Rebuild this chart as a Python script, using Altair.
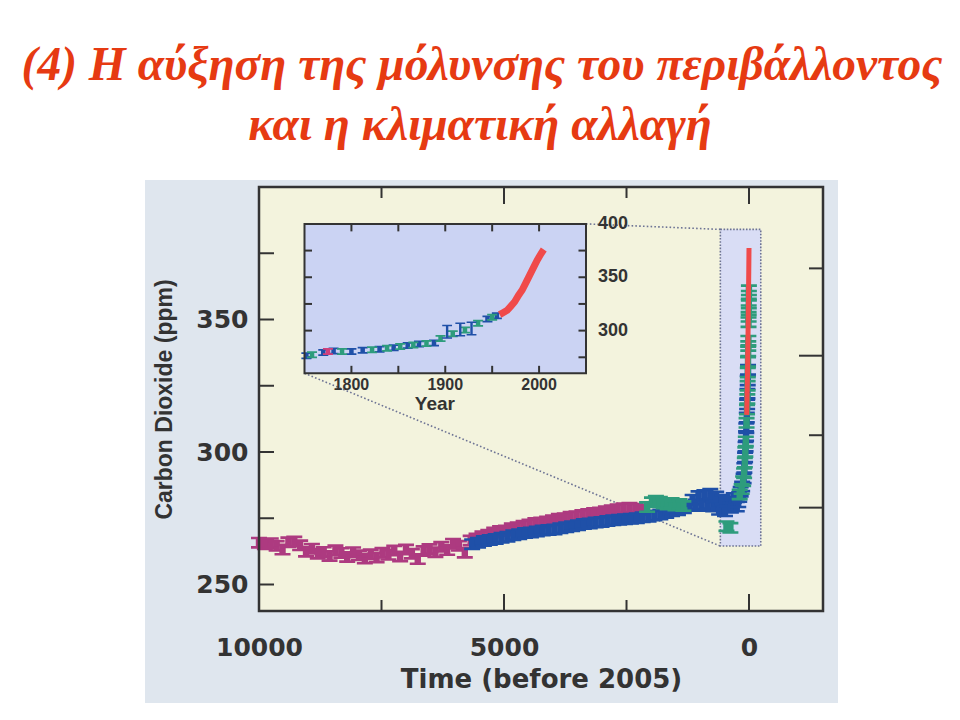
import math
import altair as alt
import pandas as pd

# ---------------- text ----------------
TITLE_LINES = ["(4) Η αύξηση της μόλυνσης του περιβάλλοντος", "και η κλιματική αλλαγή"]
X_TITLE = "Time (before 2005)"
Y_TITLE = "Carbon Dioxide (ppm)"
INSET_X_TITLE = "Year"

# ---------------- main panel data (years before 2005, ppm) ----------------
mag_t = [10000, 9880, 9760, 9640, 9520, 9400, 9280, 9160, 9040, 8920, 8800, 8680, 8560, 8440,
         8320, 8200, 8080, 7960, 7840, 7720, 7600, 7480, 7360, 7240, 7120, 7000, 6880, 6760,
         6640, 6520, 6400, 6280, 6160, 6040, 5920, 5800, 5680, 5560, 5440, 5320, 5200, 5080,
         4960, 4840, 4720, 4600, 4480, 4360, 4240, 4120, 4000, 3880, 3760, 3640, 3520, 3400,
         3280, 3160, 3040, 2920, 2800, 2680, 2560, 2440, 2320, 2200]
mag_ppm = [265.8, 265.2, 265.6, 264.6, 263.2, 265.9, 266.2, 264.8, 262.4, 263.5, 261.6, 262.3,
           260.8, 262.9, 261.9, 260.4, 262.2, 261.0, 259.8, 261.4, 260.2, 262.0, 261.2, 262.8,
           260.6, 263.2, 261.6, 259.6, 262.6, 263.4, 262.2, 264.2, 263.0, 265.4, 264.6, 262.0,
           266.6, 267.4, 268.2, 268.8, 269.6, 270.2, 270.4, 271.2, 271.6, 272.2, 272.6, 273.2,
           273.4, 273.8, 274.2, 274.8, 275.0, 275.6, 275.8, 276.2, 276.6, 277.0, 277.2, 277.6,
           278.0, 278.4, 278.8, 279.0, 278.6, 278.2]

blue_t = [5650, 5530, 5410, 5290, 5170, 5050, 4930, 4810, 4690, 4570, 4450, 4330, 4210, 4090,
          3970, 3850, 3730, 3610, 3490, 3370, 3250, 3130, 3010, 2890, 2770, 2650, 2530, 2410,
          2290, 2170, 2050, 1930, 1810, 1690, 1570, 1450, 1330, 1210, 1150, 1090, 1030, 970,
          910, 850, 790, 730, 670, 610, 550, 490, 430, 370, 310, 250, 220,
          200, 170, 140, 110, 95, 80, 70, 60, 55, 45, 38, 32, 26, 20]
blue_ppm = [265.2, 265.8, 266.4, 266.8, 267.2, 267.6, 268.0, 268.6, 269.0, 269.4, 269.6, 270.0,
            270.4, 270.6, 270.8, 271.2, 271.6, 272.0, 272.4, 272.8, 273.0, 273.4, 273.6, 274.0,
            274.2, 274.4, 274.6, 274.8, 275.0, 275.4, 275.6, 276.0, 276.4, 277.0, 277.6, 278.0,
            278.8, 279.6, 282.0, 280.2, 283.4, 279.6, 283.8, 280.4, 284.2, 279.4, 283.2, 278.2,
            282.0, 277.6, 281.4, 279.0, 282.6, 279.4, 281.0,
            283.0, 285.0, 287.0, 290.0, 294.0, 298.0, 302.0, 306.0, 309.0, 313.0, 318.0, 322.0,
            327.0, 331.0]

green_t = [2080, 1980, 1900, 1820, 1740, 1660, 1580, 1500, 1420, 1340, 460, 380,
           190, 150, 120, 100, 85, 75, 65, 50, 40, 34, 28, 24, 20, 17, 15, 13, 10, 8, 6, 4, 3, 2]
green_ppm = [279.2, 281.0, 281.6, 281.2, 280.6, 280.2, 280.8, 279.8, 280.4, 279.6, 272.0, 271.4,
             284.0, 286.0, 289.0, 292.0, 296.0, 300.0, 304.0, 311.0, 316.0, 320.0, 325.0, 330.0,
             334.0, 338.0, 340.0, 342.0, 349.0, 351.0, 353.5, 356.0, 359.0, 361.0]

red_t = [47, 40, 30, 20, 15, 10, 5, 0]
red_ppm = [314, 320, 330, 344, 352, 360, 368, 377]

# zoom box around the last centuries (years before 2005, ppm)
box_t = [585, -240]
box_ppm = [264.5, 384]

# main axes
X_LABELS = [10000, 5000, 0]
X_MAJOR = [5000, 0]
X_MINOR = [7500, 2500]
Y_LABELS = [250, 300, 350]
Y_TICKS = [250, 275, 300, 325, 350, 375]
RF_MAJOR = [0.0, 1.0]      # radiative forcing ticks (W m-2), right axis, labels cropped
RF_MINOR = [0.5, 1.5]

# ---------------- inset data (calendar year, ppm) ----------------
in_blue_year = [1752, 1770, 1781, 1800, 1812, 1830, 1845, 1860, 1872, 1888, 1945, 1955]
in_blue_ppm = [276.5, 279.5, 281.0, 280.5, 281.5, 282.5, 284.0, 286.0, 287.5, 288.5, 311.0, 314.0]
in_err_year = [1902, 1916, 1928]
in_err_ppm = [299.0, 301.0, 302.0]
in_green_year = [1758, 1790, 1822, 1838, 1852, 1866, 1880, 1895, 1908, 1921, 1935, 1950]
in_green_ppm = [277.5, 280.5, 282.0, 283.5, 285.0, 286.5, 288.0, 292.5, 297.0, 300.5, 307.0, 312.5]
in_mag_year = [1775]
in_mag_ppm = [280.5]
in_red_year = [1958, 1962, 1966, 1970, 1974, 1978, 1982, 1986, 1990, 1994, 1998, 2002, 2005]
in_red_ppm = [315, 317, 319, 323, 327, 333, 338, 345, 352, 359, 366, 372, 376]

IN_X_TICKS = [1800, 1850, 1900, 1950, 2000]
IN_X_LABELS = [1800, 1900, 2000]
IN_Y_TICKS = [275, 300, 325, 350, 375]
IN_Y_LABELS = [400, 350, 300]

# ---------------- layout ----------------
W, H = 564, 424
X_DOM = [10000, -1510]
Y_DOM = [240, 400]
IN_X_DOM = [1750, 2050]
IN_Y_DOM = [260, 400]
IN_X_RANGE = [45.5, 327.0]
IN_Y_RANGE = [186.3, 36.9]

C_TITLE = "#e63a12"
C_TEXT = "#333333"
C_MAG = "#ad3a80"
C_BLUE = "#1f50a8"
C_GREEN = "#2e9c7c"
C_RED = "#f04a4a"
C_OUTER = "#dfe6ee"
C_PLOT = "#f3f3dd"
C_INSET = "#cbd3f3"
C_BOX = "#d9ddf5"
C_DOT = "#6d7394"

I_MAIN = "M-1,-0.75L1,-0.75L1,-0.42L0.4,-0.42L0.4,0.42L1,0.42L1,0.75L-1,0.75L-1,0.42L-0.4,0.42L-0.4,-0.42L-1,-0.42Z"
I_SMALL = "M-1,-0.7L1,-0.7L1,-0.35L0.45,-0.35L0.45,0.35L1,0.35L1,0.7L-1,0.7L-1,0.35L-0.45,0.35L-0.45,-0.35L-1,-0.35Z"
I_TALL = "M-0.7,-1L0.7,-1L0.7,-0.78L0.17,-0.78L0.17,0.78L0.7,0.78L0.7,1L-0.7,1L-0.7,0.78L-0.17,0.78L-0.17,-0.78L-0.7,-0.78Z"


def inv_main_x(px):
    return X_DOM[0] + (X_DOM[1] - X_DOM[0]) * px / W


def inv_main_y(py):
    return Y_DOM[1] - (Y_DOM[1] - Y_DOM[0]) * py / H


one = pd.DataFrame({"a": [0]})

xs = alt.Scale(domain=X_DOM, nice=False, zero=False)
ys = alt.Scale(domain=Y_DOM, nice=False, zero=False)
x_axis = alt.Axis(values=X_LABELS, format="d", ticks=False, domain=False, grid=False, zindex=5,
                  labelFlush=False, labelFont="DejaVu Sans", labelFontWeight="bold",
                  labelFontSize=25, labelColor=C_TEXT, labelPadding=24,
                  title=X_TITLE, titleFont="DejaVu Sans", titleFontWeight="bold",
                  titleFontSize=26, titleColor=C_TEXT, titlePadding=6)
y_axis = alt.Axis(values=Y_LABELS, format="d", ticks=False, domain=False, grid=False, zindex=5,
                  labelFont="DejaVu Sans", labelFontWeight="bold", labelFontSize=25,
                  labelColor=C_TEXT, labelPadding=11,
                  title=Y_TITLE, titleFont="Liberation Sans", titleFontWeight="bold",
                  titleFontSize=23, titleColor=C_TEXT, titlePadding=19)


def MX(f):
    return alt.X(f, type="quantitative", scale=xs, axis=x_axis)


def MY(f):
    return alt.Y(f, type="quantitative", scale=ys, axis=y_axis)


layers = []
# figure background and plot area
layers.append(alt.Chart(one).mark_rect(color=C_OUTER).encode(
    x=alt.value(-114), x2=alt.value(579), y=alt.value(-7), y2=alt.value(516)))
layers.append(alt.Chart(one).mark_rect(color=C_PLOT).encode(
    x=alt.value(0), x2=alt.value(W), y=alt.value(0), y2=alt.value(H)))
# title
for i, (line, xv, yv) in enumerate(zip(TITLE_LINES, [223, 221], [-107, -47])):
    layers.append(alt.Chart(one).mark_text(
        text=line, font="Liberation Serif", fontStyle="italic", fontWeight="bold",
        fontSize=47.5, color=C_TITLE, align="center", baseline="alphabetic").encode(
        x=alt.value(xv), y=alt.value(yv)))

# zoom box
box_df = pd.DataFrame({"t1": [box_t[0]], "t2": [box_t[1]], "p1": [box_ppm[0]], "p2": [box_ppm[1]]})
layers.append(alt.Chart(box_df).mark_rect(fill=C_BOX, stroke=C_DOT, strokeWidth=1.6,
                                          strokeDash=[1.6, 1.6]).encode(
    x=MX("t1"), x2="t2", y=MY("p1"), y2="p2"))

# connectors from inset corners to zoom box
conn_df = pd.DataFrame({
    "xa": [inv_main_x(IN_X_RANGE[1]), inv_main_x(IN_X_RANGE[0])],
    "ya": [inv_main_y(IN_Y_RANGE[1]), inv_main_y(IN_Y_RANGE[0])],
    "xb": [box_t[0], box_t[0]],
    "yb": [box_ppm[1], box_ppm[0]],
})
layers.append(alt.Chart(conn_df).mark_rule(color=C_DOT, strokeWidth=1.6, strokeDash=[1.6, 2.2]).encode(
    x=MX("xa"), y=MY("ya"), x2="xb", y2="yb"))

# data glyphs
for tt, pp, col in [(mag_t, mag_ppm, C_MAG), (blue_t, blue_ppm, C_BLUE), (green_t, green_ppm, C_GREEN)]:
    df = pd.DataFrame({"t": tt, "ppm": pp})
    layers.append(alt.Chart(df).mark_point(shape=I_MAIN, filled=True, size=256, opacity=1,
                                           color=col).encode(x=MX("t"), y=MY("ppm")))
red_df = pd.DataFrame({"t": red_t, "ppm": red_ppm})
layers.append(alt.Chart(red_df).mark_line(color=C_RED, strokeWidth=5).encode(
    x=MX("t"), y=MY("ppm")))

# inward ticks
yt = pd.DataFrame({"v": Y_TICKS})
layers.append(alt.Chart(yt).mark_rule(color=C_TEXT, strokeWidth=2).encode(
    y=MY("v"), x=alt.value(0), x2=alt.value(15)))
for vals, ln in [(X_MAJOR, 17), (X_MINOR, 11)]:
    d = pd.DataFrame({"v": vals})
    layers.append(alt.Chart(d).mark_rule(color=C_TEXT, strokeWidth=2).encode(
        x=MX("v"), y=alt.value(0), y2=alt.value(ln)))
    layers.append(alt.Chart(d).mark_rule(color=C_TEXT, strokeWidth=2).encode(
        x=MX("v"), y=alt.value(H - ln), y2=alt.value(H)))
for vals, ln in [(RF_MAJOR, 24), (RF_MINOR, 14)]:
    d = pd.DataFrame({"F": vals})
    layers.append(alt.Chart(d).transform_calculate(ppm="279*exp(datum.F/5.35)").mark_rule(
        color=C_TEXT, strokeWidth=2).encode(
        y=MY("ppm"), x=alt.value(W - ln), x2=alt.value(W)))
# frame
layers.append(alt.Chart(one).mark_rect(fillOpacity=0, stroke=C_TEXT, strokeWidth=2.5).encode(
    x=alt.value(0), x2=alt.value(W), y=alt.value(0), y2=alt.value(H)))

main = alt.layer(*layers)

# ---------------- inset ----------------
ixs = alt.Scale(domain=IN_X_DOM, range=IN_X_RANGE, nice=False, zero=False)
iys = alt.Scale(domain=IN_Y_DOM, range=IN_Y_RANGE, nice=False, zero=False)


def IX(f):
    return alt.X(f, type="quantitative", scale=ixs, axis=None)


def IY(f):
    return alt.Y(f, type="quantitative", scale=iys, axis=None)


ilayers = []
in_box = pd.DataFrame({"x1": [IN_X_DOM[0]], "x2": [IN_X_DOM[1]], "y1": [IN_Y_DOM[0]], "y2": [IN_Y_DOM[1]]})
ilayers.append(alt.Chart(in_box).mark_rect(fill=C_INSET).encode(
    x=IX("x1"), x2="x2", y=IY("y1"), y2="y2"))
# inset ticks
tb = pd.DataFrame({"year": IN_X_TICKS, "y0": IN_Y_DOM[0], "y1": IN_Y_DOM[0] + 7})
tt_ = pd.DataFrame({"year": IN_X_TICKS, "y0": IN_Y_DOM[1], "y1": IN_Y_DOM[1] - 7})
tl = pd.DataFrame({"ppm": IN_Y_TICKS, "x0": IN_X_DOM[0], "x1": IN_X_DOM[0] + 8})
tr = pd.DataFrame({"ppm": IN_Y_TICKS, "x0": IN_X_DOM[1], "x1": IN_X_DOM[1] - 8})
for d in (tb, tt_):
    ilayers.append(alt.Chart(d).mark_rule(color=C_TEXT, strokeWidth=2).encode(
        x=IX("year"), y=IY("y0"), y2="y1"))
for d in (tl, tr):
    ilayers.append(alt.Chart(d).mark_rule(color=C_TEXT, strokeWidth=2).encode(
        y=IY("ppm"), x=IX("x0"), x2="x1"))
# inset data
for yy, pp, col in [(in_blue_year, in_blue_ppm, C_BLUE), (in_green_year, in_green_ppm, C_GREEN),
                    (in_mag_year, in_mag_ppm, "#d0407a")]:
    df = pd.DataFrame({"year": yy, "ppm": pp})
    ilayers.append(alt.Chart(df).mark_point(shape=I_SMALL, filled=True, size=100, opacity=1,
                                            color=col).encode(x=IX("year"), y=IY("ppm")))
err_df = pd.DataFrame({"year": in_err_year, "ppm": in_err_ppm})
ilayers.append(alt.Chart(err_df).mark_point(shape=I_TALL, filled=True, size=196, opacity=1,
                                            color=C_BLUE).encode(x=IX("year"), y=IY("ppm")))
ired = pd.DataFrame({"year": in_red_year, "ppm": in_red_ppm})
ilayers.append(alt.Chart(ired).mark_line(color=C_RED, strokeWidth=7).encode(
    x=IX("year"), y=IY("ppm")))
# inset frame
ilayers.append(alt.Chart(in_box).mark_rect(fillOpacity=0, stroke=C_TEXT, strokeWidth=2).encode(
    x=IX("x1"), x2="x2", y=IY("y1"), y2="y2"))
# inset labels
rl = pd.DataFrame({"ppm": IN_Y_LABELS, "lab": [str(v) for v in IN_Y_LABELS], "x": IN_X_DOM[1]})
ilayers.append(alt.Chart(rl).mark_text(align="left", baseline="middle", dx=12, font="Liberation Sans",
                                       fontWeight="bold", fontSize=18, color=C_TEXT).encode(
    x=IX("x"), y=IY("ppm"), text="lab:N"))
bl = pd.DataFrame({"year": IN_X_LABELS, "lab": [str(v) for v in IN_X_LABELS], "y": IN_Y_DOM[0]})
ilayers.append(alt.Chart(bl).mark_text(align="center", baseline="middle", dy=12, font="Liberation Sans",
                                       fontWeight="bold", fontSize=16, color=C_TEXT).encode(
    x=IX("year"), y=IY("y"), text="lab:N"))
yl = pd.DataFrame({"year": [1889], "y": [IN_Y_DOM[0]], "lab": [INSET_X_TITLE]})
ilayers.append(alt.Chart(yl).mark_text(align="center", baseline="middle", dy=31, font="Liberation Sans",
                                       fontWeight="bold", fontSize=19, color=C_TEXT).encode(
    x=IX("year"), y=IY("y"), text="lab:N"))

inset = alt.layer(*ilayers)

chart = alt.layer(main, inset).resolve_scale(x="independent", y="independent").properties(
    width=W, height=H,
    padding={"left": 251, "top": 179, "right": 129, "bottom": 101},
    autosize=alt.AutoSizeParams(type="none"),
    background="white",
).configure_view(strokeWidth=0)

chart.save("out.html", embed_options={"renderer": "svg", "actions": False})
